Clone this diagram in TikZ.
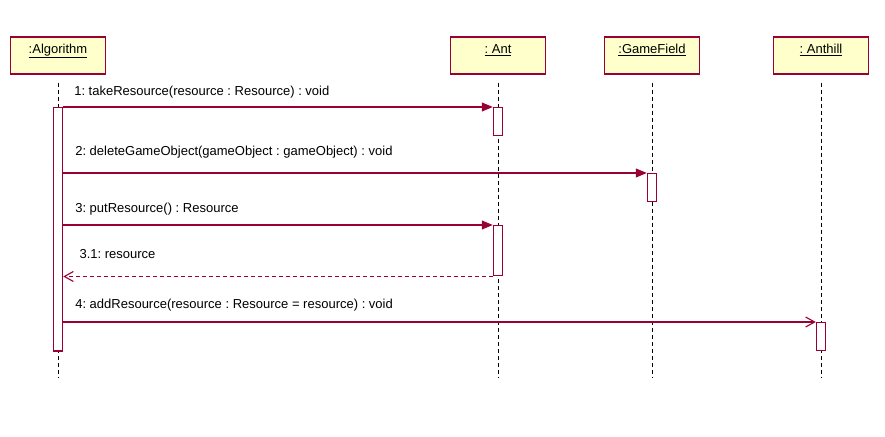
\documentclass[tikz,border=0pt]{standalone}
\usepackage{fontspec}
\setmainfont{Liberation Sans}
\usetikzlibrary{arrows.meta}
\definecolor{umlred}{HTML}{990033}
\definecolor{umlfill}{HTML}{FFFFCC}
\frenchspacing
\tikzset{
    synccall/.style={-{Triangle[length=11bp,width=9bp]}},
    asynccall/.style={-{Straight Barb[length=9bp,width=10bp]}},
    replymsg/.style={dashed,dash pattern=on 4bp off 3bp,-{Straight Barb[length=9bp,width=10bp]}},
    msg/.style={anchor=base west,inner sep=0pt,text=black}
}
\begin{document}
\begin{tikzpicture}[x=1bp,y=-1bp,font=\fontsize{13bp}{15bp}\selectfont]
        \useasboundingbox (0,0) rectangle (885,437);
        \begin{scope}[every node/.style={draw=umlred,fill=umlfill,line width=1.5bp,minimum width=95bp,inner ysep=0pt,text height=16.5bp,text depth=20.5bp}]
            \node (alg) at (58,55.5) {\underline{:Algorithm}};
            \node (ant) at (498,55.5) {\underline{: Ant}};
            \node (field) at (652,55.5) {\underline{:GameField}};
            \node (hill) at (821,55.5) {\underline{: Anthill}};
        \end{scope}
        \coordinate (algend) at (58,378);
        \coordinate (antend) at (498,378);
        \coordinate (fieldend) at (652,378);
        \coordinate (hillend) at (821,378);
        \begin{scope}[every edge/.style={draw,line width=0.9bp,dash pattern=on 4bp off 3bp,shorten <=8bp}]
            \path
                (alg) edge (algend)
                (ant) edge (antend)
                (field) edge (fieldend)
                (hill) edge (hillend);
        \end{scope}
        \begin{scope}[every node/.style={draw=umlred,fill=white,line width=1.5bp,minimum width=9bp,inner sep=0pt,anchor=north}]
            \node (a0) [minimum height=243bp] at (58,107) {};
            \node (a1) [minimum height=28bp] at (498,107) {};
            \node (a2) [minimum height=28bp] at (652,173) {};
            \node (a3) [minimum height=50bp] at (498,225) {};
            \node (a4) [minimum height=28bp] at (821,322) {};
        \end{scope}
        \begin{scope}[every edge/.style={draw=umlred,fill=umlred,line width=1.1bp}]
            \path
                (a0.east |- a1.north) edge [synccall] node [msg,pos=0,xshift=10.5bp,yshift=11.5bp] {1: takeResource(resource : Resource) : void} (a1.north west)
                (a0.east |- a2.north) edge [synccall] node [msg,pos=0,xshift=11.5bp,yshift=17.3bp] {2: deleteGameObject(gameObject : gameObject) : void} (a2.north west)
                (a0.east |- a3.north) edge [synccall] node [msg,pos=0,xshift=11.5bp,yshift=12.7bp] {3: putResource() : Resource} (a3.north west)
                (a3.south west) edge [replymsg,fill=none] node [msg,pos=1,xshift=15.8bp,yshift=17.6bp] {3.1: resource} (a0.east |- a3.south)
                (a0.east |- a4.north) edge [asynccall,fill=none] node [msg,pos=0,xshift=11.5bp,yshift=13.3bp] {4: addResource(resource : Resource = resource) : void} (a4.north west);
        \end{scope}
    \end{tikzpicture}
\end{document}
